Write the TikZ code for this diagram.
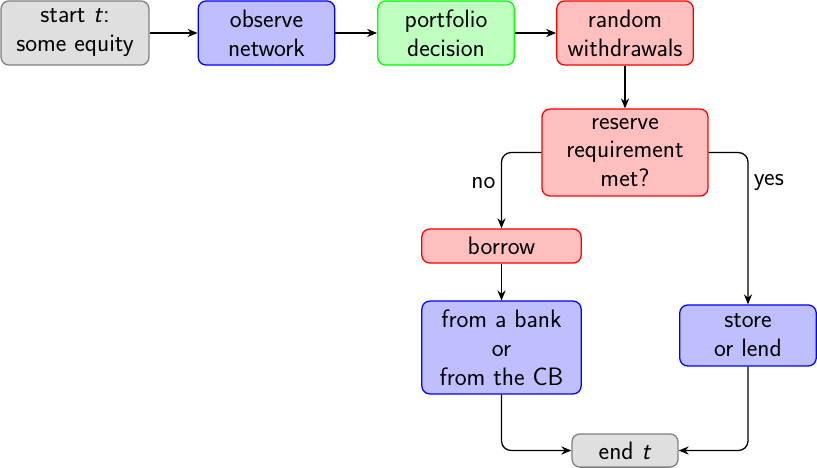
\documentclass[tikz,border=0pt]{standalone}
\usetikzlibrary{arrows.meta}
\tikzset{
  every picture/.style={font=\sffamily\fontsize{15.75}{18.1}\selectfont},
  flow box/.style={rounded corners=5pt, thick, align=center,
    minimum width=3cm, inner xsep=0.3333em, inner ysep=3pt},
  flow gray/.style={flow box, draw=gray, fill=gray!25},
  flow blue/.style={flow box, draw=blue, fill=blue!25},
  flow green/.style={flow box, draw=green, fill=green!25},
  flow red/.style={flow box, draw=red, fill=red!25},
  flow arrow/.style={-{Stealth[length=2.2mm,width=1.8mm]}, thick,
    rounded corners=6pt}
}
\begin{document}
\begin{tikzpicture}
  \useasboundingbox (0,0) rectangle (17.95,-10.28);

  % top row
  \node[flow gray, minimum width=3.25cm, minimum height=1.41cm] (start)
    at (1.648,-0.725) {start \textit{t}:\\some equity};
  \node[flow blue, minimum height=1.41cm] (observe)
    at (5.855,-0.725) {observe\\network};
  \node[flow green, minimum height=1.41cm] (portfolio)
    at (9.799,-0.725) {portfolio\\decision};
  \node[flow red, minimum height=1.41cm] (withdraw)
    at (13.732,-0.725) {random\\withdrawals};

  % decision and its two branches
  \node[flow red, minimum width=3.65cm, minimum height=1.91cm] (reserve)
    at (13.732,-3.351) {reserve\\requirement\\met?};
  \node[flow red, minimum width=3.5cm, minimum height=0.75cm] (borrow)
    at (11.018,-5.405) {borrow};
  \node[flow blue, minimum width=3.5cm, minimum height=2.04cm] (lender)
    at (11.018,-7.635) {from a bank\\or\\from the CB};
  \node[flow blue, minimum height=1.34cm] (store)
    at (16.434,-7.371) {store\\or lend};
  \node[flow gray, minimum width=2.33cm, minimum height=0.73cm] (end)
    at (13.732,-9.898) {end \textit{t}};

  \draw[flow arrow] (start) -- (observe);
  \draw[flow arrow] (observe) -- (portfolio);
  \draw[flow arrow] (portfolio) -- (withdraw);
  \draw[flow arrow] (withdraw) -- (reserve);
  \draw[flow arrow] (reserve.west) -| node[pos=0.7, left] {no} (borrow.north);
  \draw[flow arrow] (reserve.east) -| node[pos=0.6, right] {yes} (store.north);
  \draw[flow arrow] (borrow) -- (lender);
  \draw[flow arrow] (lender.south) |- (end.west);
  \draw[flow arrow] (store.south) |- (end.east);
\end{tikzpicture}
\end{document}
